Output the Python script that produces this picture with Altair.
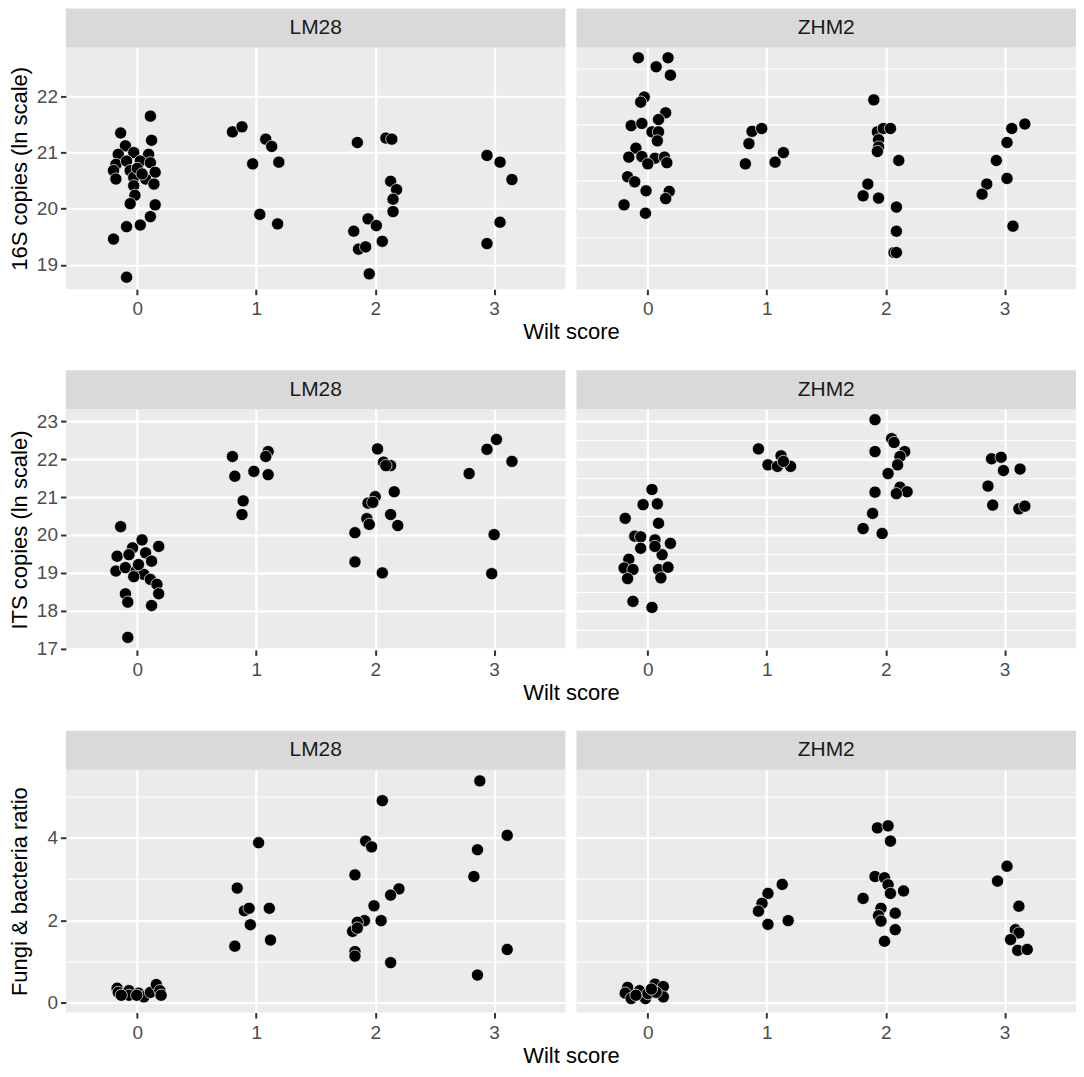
import altair as alt
import pandas as pd

FONT = "Liberation Sans"

# ---------------- Row 1: 16S copies (ln scale) ----------------
s16_lm28_wilt = [0.11, -0.14, 0.12, -0.10, -0.16, -0.03, 0.095, -0.18, -0.09, 0.025, 0.11, -0.20, -0.06, 0.15,
                 -0.18, -0.03, 0.07, 0.14, -0.03, -0.02, -0.06, 0.15, 0.11, 0.025, -0.09, -0.20, -0.09, 0.0, 0.04,
                 0.80, 0.88, 1.08, 1.13, 0.97, 1.19, 1.03, 1.18,
                 1.85, 2.09, 2.14, 2.13, 2.18, 2.15, 2.15, 1.94, 2.01, 1.82, 2.06, 1.86, 1.92, 1.95,
                 2.94, 3.05, 3.15, 3.05, 2.94]
s16_lm28_val = [21.65, 21.35, 21.22, 21.12, 20.97, 21.00, 20.97, 20.79, 20.85, 20.85, 20.82, 20.68, 20.68, 20.65,
                20.53, 20.56, 20.53, 20.44, 20.41, 20.24, 20.09, 20.07, 19.86, 19.71, 19.68, 19.46, 18.78, 20.72, 20.62,
                21.37, 21.46, 21.24, 21.11, 20.80, 20.83, 19.90, 19.73,
                21.18, 21.26, 21.24, 20.49, 20.34, 20.17, 19.95, 19.82, 19.70, 19.60, 19.42, 19.28, 19.32, 18.84,
                20.95, 20.83, 20.52, 19.76, 19.38]
s16_zhm2_wilt = [-0.08, 0.17, 0.07, 0.19, -0.03, -0.06, 0.15, 0.09, -0.14, -0.05, 0.035, 0.09, 0.08, -0.10,
                 -0.16, -0.05, 0.06, 0.14, 0.16, 0.0, -0.17, -0.11, -0.015, 0.18, 0.15, -0.20, -0.02,
                 0.876, 0.957, 0.85, 1.14, 1.07, 0.82,
                 1.90, 1.93, 1.98, 2.04, 1.94, 1.94, 1.93, 2.11, 1.85, 1.81, 1.94, 2.09, 2.09, 2.07, 2.09,
                 3.17, 3.06, 3.02, 2.93, 3.02, 2.85, 2.81, 3.07]
s16_zhm2_val = [22.69, 22.69, 22.53, 22.38, 21.99, 21.90, 21.71, 21.59, 21.48, 21.52, 21.37, 21.37, 21.21, 21.08,
                20.92, 20.93, 20.90, 20.92, 20.82, 20.80, 20.57, 20.48, 20.32, 20.31, 20.18, 20.07, 19.92,
                21.38, 21.43, 21.16, 21.00, 20.83, 20.80,
                21.94, 21.37, 21.43, 21.43, 21.23, 21.10, 21.02, 20.86, 20.44, 20.23, 20.19, 20.03, 19.60, 19.22, 19.22,
                21.51, 21.43, 21.18, 20.86, 20.54, 20.44, 20.26, 19.69]

# ---------------- Row 2: ITS copies (ln scale) ----------------
its_lm28_wilt = [-0.14, 0.04, -0.04, 0.18, -0.17, -0.07, 0.07, 0.12, -0.18, -0.10, -0.01, 0.055, 0.11, 0.165,
                 0.18, -0.10, -0.08, 0.12, -0.08, 0.01, -0.03,
                 0.80, 1.10, 1.08, 0.98, 1.10, 0.82, 0.89, 0.88,
                 2.02, 2.07, 2.13, 2.09, 2.16, 2.00, 1.94, 1.98, 2.13, 1.93, 1.95, 2.19, 1.83, 1.83, 2.06,
                 3.02, 2.94, 3.15, 2.79, 3.00, 2.98]
its_lm28_val = [20.22, 19.87, 19.66, 19.70, 19.44, 19.48, 19.53, 19.31, 19.05, 19.14, 19.05, 18.96, 18.83, 18.70,
                18.45, 18.45, 18.23, 18.14, 17.30, 19.22, 18.90,
                22.07, 22.20, 22.07, 21.68, 21.59, 21.55, 20.90, 20.54,
                22.27, 21.92, 21.83, 21.83, 21.14, 21.01, 20.84, 20.86, 20.54, 20.43, 20.28, 20.25, 20.06, 19.29, 19.00,
                22.52, 22.26, 21.94, 21.62, 20.01, 18.98]
its_zhm2_wilt = [0.035, -0.04, 0.08, -0.19, 0.09, -0.11, -0.06, 0.06, 0.19, -0.06, 0.12, -0.16, -0.20, -0.125,
                 -0.17, 0.09, 0.17, 0.11, -0.125, 0.035, 0.06,
                 0.93, 1.12, 1.01, 1.09, 1.20, 1.14,
                 1.91, 2.05, 2.07, 1.91, 2.16, 2.12, 2.10, 2.02, 2.12, 2.18, 2.09, 1.91, 1.89, 1.81, 1.97,
                 2.89, 2.97, 2.99, 3.13, 2.86, 2.90, 3.12, 3.17]
its_zhm2_val = [21.20, 20.80, 20.82, 20.44, 20.31, 19.97, 19.95, 19.87, 19.78, 19.65, 19.48, 19.36, 19.13, 19.09,
                18.85, 19.09, 19.15, 18.87, 18.25, 18.09, 19.70,
                22.27, 22.09, 21.85, 21.81, 21.81, 21.94,
                23.04, 22.54, 22.44, 22.20, 22.20, 22.07, 21.85, 21.62, 21.26, 21.14, 21.09, 21.13, 20.57, 20.17, 20.04,
                22.01, 22.05, 21.70, 21.74, 21.29, 20.79, 20.69, 20.76]

# ---------------- Row 3: Fungi & bacteria ratio ----------------
ratio_lm28_wilt = [-0.17, -0.16, -0.07, -0.07, 0.01, 0.055, 0.11, 0.16, 0.19, 0.20, -0.135, -0.005,
                   0.84, 0.82, 0.90, 0.94, 0.95, 1.02, 1.11, 1.12,
                   2.06, 1.92, 1.97, 1.83, 2.20, 2.13, 1.99, 1.91, 1.85, 2.05, 1.81, 1.85, 1.83, 1.83, 2.13,
                   2.88, 3.11, 2.86, 2.83, 3.11, 2.86]
ratio_lm28_val = [0.35, 0.25, 0.29, 0.18, 0.23, 0.14, 0.25, 0.44, 0.29, 0.18, 0.18, 0.18,
                  2.78, 1.37, 2.23, 2.29, 1.89, 3.88, 2.29, 1.52,
                  4.90, 3.92, 3.78, 3.10, 2.76, 2.61, 2.35, 1.99, 1.95, 1.99, 1.73, 1.81, 1.24, 1.13, 0.97,
                  5.38, 4.06, 3.71, 3.06, 1.29, 0.67]
ratio_zhm2_wilt = [-0.17, -0.19, -0.14, -0.07, -0.02, 0.0, 0.06, 0.13, 0.13, 0.07, -0.10, 0.03,
                   1.13, 1.01, 0.96, 0.93, 1.18, 1.01,
                   1.93, 2.02, 2.04, 1.91, 1.99, 2.02, 2.15, 2.04, 1.81, 1.96, 2.08, 1.94, 1.96, 2.08, 1.99,
                   3.02, 2.94, 3.12, 3.09, 3.12, 3.05, 3.11, 3.19]
ratio_zhm2_val = [0.37, 0.23, 0.10, 0.29, 0.10, 0.22, 0.45, 0.39, 0.14, 0.25, 0.18, 0.33,
                  2.87, 2.65, 2.41, 2.22, 1.99, 1.90,
                  4.24, 4.29, 3.92, 3.06, 3.03, 2.86, 2.71, 2.65, 2.53, 2.29, 2.17, 2.11, 1.98, 1.77, 1.49,
                  3.31, 2.95, 2.34, 1.77, 1.69, 1.53, 1.27, 1.29]

strains = ["LM28", "ZHM2"]
wilt_ticks = [0, 1, 2, 3]
x_domain = [-0.6, 3.6]

rows = [
    dict(title="16S copies (ln scale)",
         data={"LM28": (s16_lm28_wilt, s16_lm28_val), "ZHM2": (s16_zhm2_wilt, s16_zhm2_val)},
         domain=[18.566, 22.874], values=[19, 19.5, 20, 20.5, 21, 21.5, 22, 22.5],
         major="datum.value % 1 === 0", height=242, title_pad=5),
    dict(title="ITS copies (ln scale)",
         data={"LM28": (its_lm28_wilt, its_lm28_val), "ZHM2": (its_zhm2_wilt, its_zhm2_val)},
         domain=[16.97, 23.32], values=[17, 17.5, 18, 18.5, 19, 19.5, 20, 20.5, 21, 21.5, 22, 22.5, 23],
         major="datum.value % 1 === 0", height=241, title_pad=5),
    dict(title="Fungi & bacteria ratio",
         data={"LM28": (ratio_lm28_wilt, ratio_lm28_val), "ZHM2": (ratio_zhm2_wilt, ratio_zhm2_val)},
         domain=[-0.24, 5.65], values=[0, 1, 2, 3, 4, 5],
         major="datum.value % 2 === 0", height=243, title_pad=15.5),
]

WIDTH = 500
STRIP_H = 39
GAP = 11


def make_panel(strain, row, first):
    w, h = WIDTH, row["height"]
    wilt, val = row["data"][strain]
    df = pd.DataFrame({"wilt": wilt, "value": val})
    label_df = pd.DataFrame({"strain": [strain]})

    strip = alt.Chart(label_df).mark_rect(color="#D9D9D9").encode(
        x=alt.value(0), x2=alt.value(w), y=alt.value(-STRIP_H), y2=alt.value(0))
    strip_text = alt.Chart(label_df).mark_text(
        font=FONT, fontSize=21, color="#1A1A1A", align="center", baseline="middle").encode(
        x=alt.value(w / 2), y=alt.value(-STRIP_H / 2), text="strain:N")

    grid_w = {"condition": {"test": row["major"], "value": 2.2}, "value": 1.1}
    if first:
        yaxis = alt.Axis(values=row["values"], title=row["title"], format="d",
                         labelExpr=f"({row['major']}) ? datum.label : ''",
                         tickOpacity={"condition": {"test": row["major"], "value": 1}, "value": 0},
                         gridWidth=grid_w, titlePadding=row["title_pad"])
        xaxis = alt.Axis(values=wilt_ticks, title="Wilt score", titleX=w + GAP / 2,
                         titleAlign="center", gridWidth=2.2)
    else:
        yaxis = alt.Axis(values=row["values"], title=None, labels=False, ticks=False,
                         gridWidth=grid_w)
        xaxis = alt.Axis(values=wilt_ticks, title=None, gridWidth=2.2)

    points = alt.Chart(df).mark_circle(
        size=150, color="black", opacity=1, stroke="white", strokeWidth=0.7).encode(
        x=alt.X("wilt:Q", scale=alt.Scale(domain=x_domain, nice=False, zero=False), axis=xaxis),
        y=alt.Y("value:Q", scale=alt.Scale(domain=row["domain"], nice=False, zero=False), axis=yaxis),
    )
    return alt.layer(strip, strip_text, points).properties(width=w, height=h)


row_charts = []
for row in rows:
    left = make_panel("LM28", row, True)
    right = make_panel("ZHM2", row, False)
    row_charts.append(alt.hconcat(left, right, spacing=GAP, bounds="flush"))

chart = alt.vconcat(*row_charts, spacing=27).properties(
    padding={"left": 0, "top": 0, "right": 0, "bottom": 0}, background="white"
).configure(
    padding={"left": 0, "top": 0, "right": 0, "bottom": 0}
).configure_view(
    fill="#EBEBEB", stroke=None
).configure_axis(
    gridColor="white", domain=False, tickColor="#333333", tickWidth=2, tickSize=5.5,
    labelFont=FONT, labelFontSize=19, labelColor="#4D4D4D",
    titleFont=FONT, titleFontSize=22, titleColor="black", titleFontWeight="normal",
    labelOverlap=False, labelFlush=False
).configure_axisX(
    labelPadding=5, titlePadding=3
).configure_axisY(
    labelPadding=3
)

chart.save("out.html", embed_options={"renderer": "svg", "actions": False})
